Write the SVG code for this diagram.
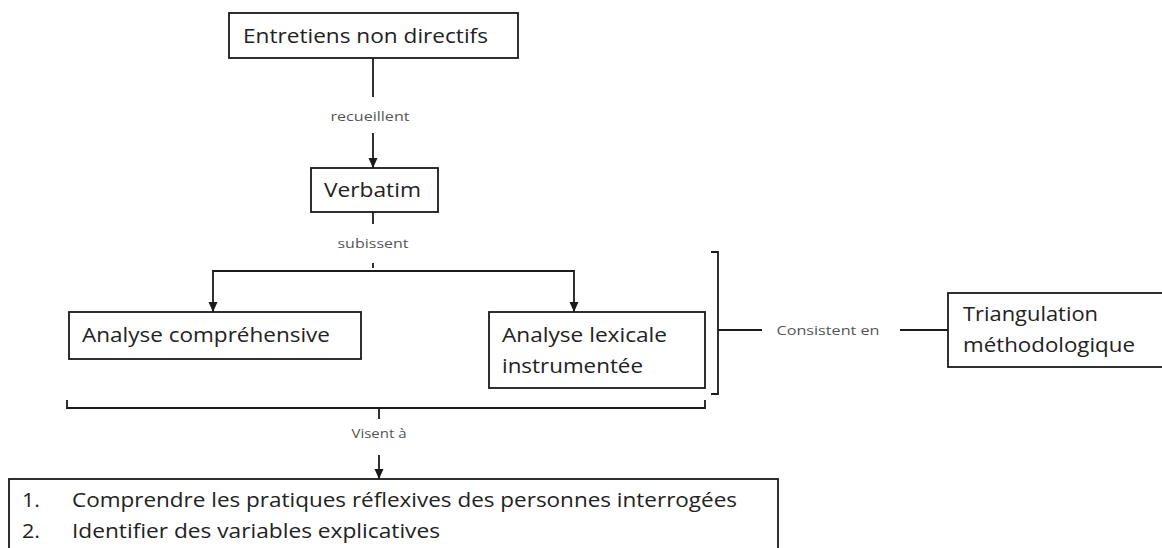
<svg xmlns="http://www.w3.org/2000/svg" width="1162" height="548" viewBox="0 0 1162 548">
<style>
.box{fill:#fff;stroke:#1a1a1a;stroke-width:1.8}
.t{font-family:"Open Sans","Noto Sans","Liberation Sans",sans-serif;font-size:20px;fill:#222}
.s{font-family:"Open Sans","Noto Sans","Liberation Sans",sans-serif;font-size:12px;fill:#555;text-anchor:middle}
.c{fill:none;stroke:#1a1a1a;stroke-width:1.8}
.bg{fill:#fff}
</style>
<defs>
<marker id="ah" viewBox="0 0 10 10" refX="10" refY="5" markerWidth="10" markerHeight="10" markerUnits="userSpaceOnUse" orient="auto">
<path d="M0,0.5 L10,5 L0,9.5 Z" fill="#1a1a1a"/>
</marker>
</defs>
<rect class="bg" x="0" y="0" width="1162" height="548"/>
<g id="connectors">
<path class="c" d="M373,58 V97"/>
<path class="c" d="M373,133 V168" marker-end="url(#ah)"/>
<path class="c" d="M373,212 V224"/>
<path class="c" d="M373,263 V268"/>
<path class="c" d="M373,271 H213 V312" marker-end="url(#ah)"/>
<path class="c" d="M373,271 H574 V312" marker-end="url(#ah)"/>
<path class="c" d="M711,252 H718 V394 H711"/>
<path class="c" d="M718,330 H762"/>
<path class="c" d="M900,330 H948"/>
<path class="c" d="M67,400 V408 H705 V400"/>
<path class="c" d="M379,408 V419"/>
<path class="c" d="M379,455 V479" marker-end="url(#ah)"/>
<text class="s" x="370" y="121" textLength="79" lengthAdjust="spacingAndGlyphs">recueillent</text>
<text class="s" x="373" y="248" textLength="71" lengthAdjust="spacingAndGlyphs">subissent</text>
<text class="s" x="828" y="335" textLength="103" lengthAdjust="spacingAndGlyphs">Consistent en</text>
<text class="s" x="379" y="438" textLength="55" lengthAdjust="spacingAndGlyphs">Visent à</text>
</g>
<g id="node-entretiens">
<rect class="box" x="229" y="13" width="289" height="45"/>
<text class="t" x="243" y="43" textLength="245" lengthAdjust="spacingAndGlyphs">Entretiens non directifs</text>
</g>
<g id="node-verbatim">
<rect class="box" x="311" y="168" width="127" height="44"/>
<text class="t" x="324" y="197" textLength="97" lengthAdjust="spacingAndGlyphs">Verbatim</text>
</g>
<g id="node-comprehensive">
<rect class="box" x="69" y="312" width="292" height="47"/>
<text class="t" x="82" y="342" textLength="248" lengthAdjust="spacingAndGlyphs">Analyse compréhensive</text>
</g>
<g id="node-lexicale">
<rect class="box" x="489" y="312" width="216" height="76"/>
<text class="t" x="502" y="342" textLength="165" lengthAdjust="spacingAndGlyphs">Analyse lexicale</text>
<text class="t" x="502" y="373" textLength="141" lengthAdjust="spacingAndGlyphs">instrumentée</text>
</g>
<g id="node-triangulation">
<rect class="box" x="948" y="293" width="230" height="74"/>
<text class="t" x="963" y="321" textLength="135" lengthAdjust="spacingAndGlyphs">Triangulation</text>
<text class="t" x="963" y="352" textLength="172" lengthAdjust="spacingAndGlyphs">méthodologique</text>
</g>
<g id="node-objectifs">
<rect class="box" x="9" y="479" width="769" height="90"/>
<text class="t" x="22" y="507" textLength="18" lengthAdjust="spacingAndGlyphs">1.</text>
<text class="t" x="72" y="507" textLength="665" lengthAdjust="spacingAndGlyphs">Comprendre les pratiques réflexives des personnes interrogées</text>
<text class="t" x="22" y="538" textLength="18" lengthAdjust="spacingAndGlyphs">2.</text>
<text class="t" x="72" y="538" textLength="368" lengthAdjust="spacingAndGlyphs">Identifier des variables explicatives</text>
</g>
</svg>
